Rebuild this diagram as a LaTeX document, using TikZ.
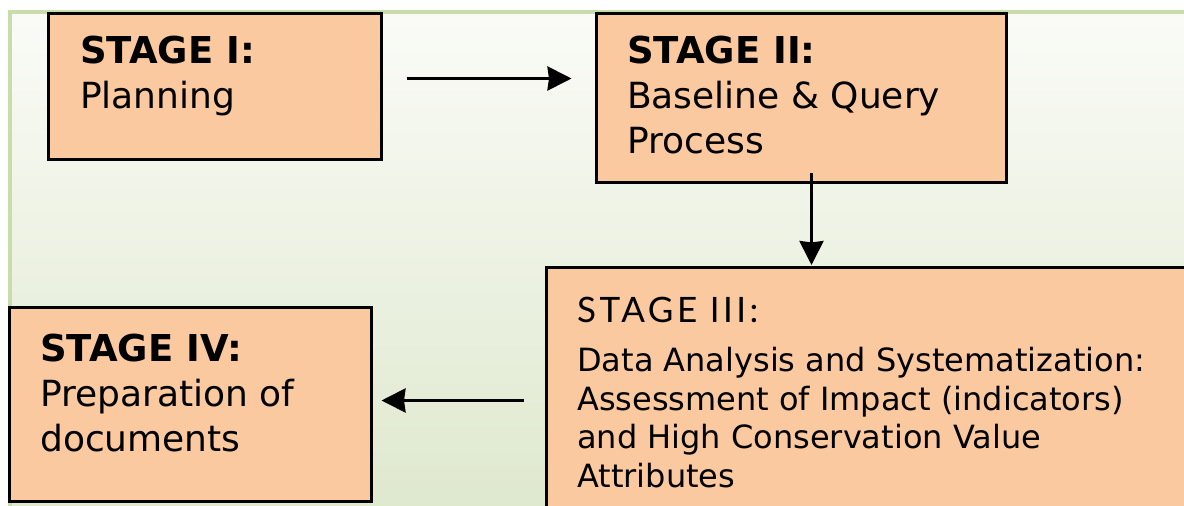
\documentclass[tikz,border=0pt]{standalone}
\usepackage{fontspec}
\setmainfont{DejaVu Sans}
\newfontfamily\headfont[LetterSpace=10]{Lato}
\usetikzlibrary{positioning,arrows.meta}
\definecolor{peach}{HTML}{FAC9A0}
\definecolor{frame}{HTML}{C9DCAB}
\definecolor{bgtop}{HTML}{FAFBF7}
\definecolor{bgbot}{HTML}{DEE8CD}
\newcommand{\stagehead}[1]{{\fontsize{37}{45}\selectfont\bfseries #1}}

\begin{document}
\begin{tikzpicture}[x=1pt,y=-1pt,
    stage/.style={draw=black,line width=3pt,fill=peach,anchor=north west,inner sep=0pt},
    stagetext/.style={anchor=north west,inner sep=0pt,align=left,font=\fontsize{36}{45}\selectfont},
    arr/.style={-{Stealth[length=24pt,width=24pt,inset=1.5pt]},line width=3pt}]
    \useasboundingbox (0,0) rectangle (1184,506);
    \clip (0,0) rectangle (1184,506);
    \fill[white] (0,0) rectangle (1184,506);
    \shade[top color=bgtop,bottom color=bgbot,draw=frame,line width=4pt] (10,12) rectangle (1200,520);

    % stages
    \node[stage,minimum width=333pt,minimum height=146pt] (s1) at (47,12) {};
    \node[stage,minimum width=410pt,minimum height=169pt] (s2) at (595,12) {};
    \node[stage,minimum width=660pt,minimum height=260pt] (s3) at (545,266) {};
    \node[stage,minimum width=362pt,minimum height=194pt] (s4) at (8,306) {};

    % texts
    \node[stagetext] (t1) at ([shift={(33,24)}]s1.north west) {\stagehead{STAGE I:}\\Planning};
    \node[stagetext] (t2) at ([shift={(32,24)}]s2.north west) {\stagehead{STAGE II:}\\Baseline \& Query\\Process};
    \node[stagetext,font=\headfont\fontsize{35}{45}\selectfont] (t3a) at ([shift={(32,31)}]s3.north west) {STAGE III:};
    \node[stagetext,font=\fontsize{32}{38.5}\selectfont] (t3b) at ([shift={(32,81)}]s3.north west)
        {Data Analysis and Systematization:\\Assessment of Impact (indicators)\\and High Conservation Value\\Attributes};
    \node[stagetext] (t4) at ([shift={(32,28)}]s4.north west) {\stagehead{STAGE IV:}\\Preparation of\\documents};

    % connectors
    \coordinate (a1) at ([shift={(0,-8)}]s1.east);
    \coordinate (a2) at ([shift={(10,-11)}]s2.south);
    \coordinate (a3) at ([shift={(0,-4)}]s4.east);
    \draw[arr,shorten <=23.5pt,shorten >=23.5pt] (a1) -- (a1 -| s2.west);
    \draw[arr,shorten >=1pt] (a2) -- (a2 |- s3.north);
    \draw[arr,shorten <=21.5pt,shorten >=8.5pt] (a3 -| s3.west) -- (a3);
\end{tikzpicture}
\end{document}
